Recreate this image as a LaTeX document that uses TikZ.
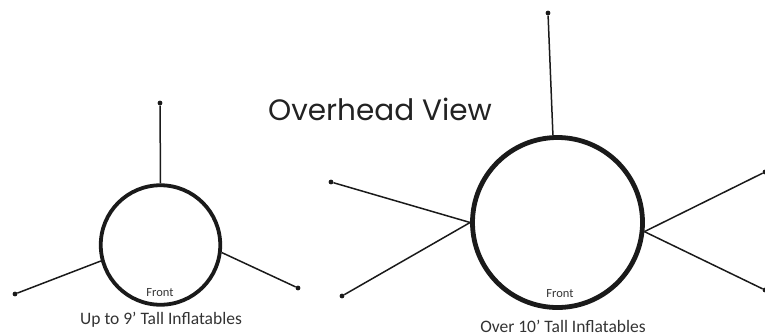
\documentclass[tikz,border=0pt]{standalone}
\usepackage{fontspec}
\newfontfamily\poppinsfont{Poppins}
\newfontfamily\carlitofont{Carlito}
\usepackage{xcolor}
\usetikzlibrary{positioning}
\definecolor{inkBlack}{HTML}{1A1A1A}
\definecolor{titleText}{HTML}{222222}
\definecolor{bodyText}{HTML}{333333}

\begin{document}
\begin{tikzpicture}[
      x=1pt, y=-1pt,
      ring/.style={circle, draw=inkBlack, line width=3.8pt, inner sep=0pt},
      bigring/.style={ring, line width=4.8pt},
      stake/.style={draw=inkBlack, line width=1.5pt},
      peg/.style={circle, fill=inkBlack, inner sep=0pt, minimum size=4.8pt},
      frontlabel/.style={font=\carlitofont\fontsize{12.5}{14}\selectfont, text=bodyText},
      caption/.style={font=\carlitofont\fontsize{17.5}{20}\selectfont, text=bodyText},
      title/.style={font=\poppinsfont\fontsize{29.5}{34}\selectfont, text=titleText},
    ]
      \useasboundingbox (0,0) rectangle (765,335);

      \node[title] (title) at (380,109) {Overhead View};

      % small inflatable, three stakes
      \node[ring, minimum size=119.5pt] (small) at (160.5,245) {};
      \node[frontlabel] (smallfront) at (160,293) {Front};
      \node[caption] (smallcap) at (161,320) {Up to 9’ Tall Inflatables};
      \node[peg] (s-top) at (160,103) {};
      \node[peg] (s-left) at (15,294) {};
      \node[peg] (s-right) at (298,288) {};

      % large inflatable, five stakes
      \node[bigring, minimum size=170pt] (big) at (557.5,222.5) {};
      \node[frontlabel] (bigfront) at (560,294) {Front};
      \node[caption] (bigcap) at (563,326) {Over 10’ Tall Inflatables};
      \node[peg] (b-top) at (548,13) {};
      \node[peg] (b-upleft) at (331,182) {};
      \node[peg] (b-lowleft) at (342,296) {};
      \node[peg] (b-upright) at (765,172) {};
      \node[peg] (b-lowright) at (765,290) {};

      % stakes
      \draw[stake] (small.90) -- (s-top);
      \draw[stake] (small.195) -- (s-left);
      \draw[stake] (small.353) -- (s-right);
      \draw[stake] (big.93) -- (b-top);
      \draw[stake] (big.180) -- (b-upleft);
      \draw[stake] (big.180) -- (b-lowleft);
      \draw[stake] (big.354) -- (b-upright);
      \draw[stake] (big.354) -- (b-lowright);

\end{tikzpicture}
\end{document}
